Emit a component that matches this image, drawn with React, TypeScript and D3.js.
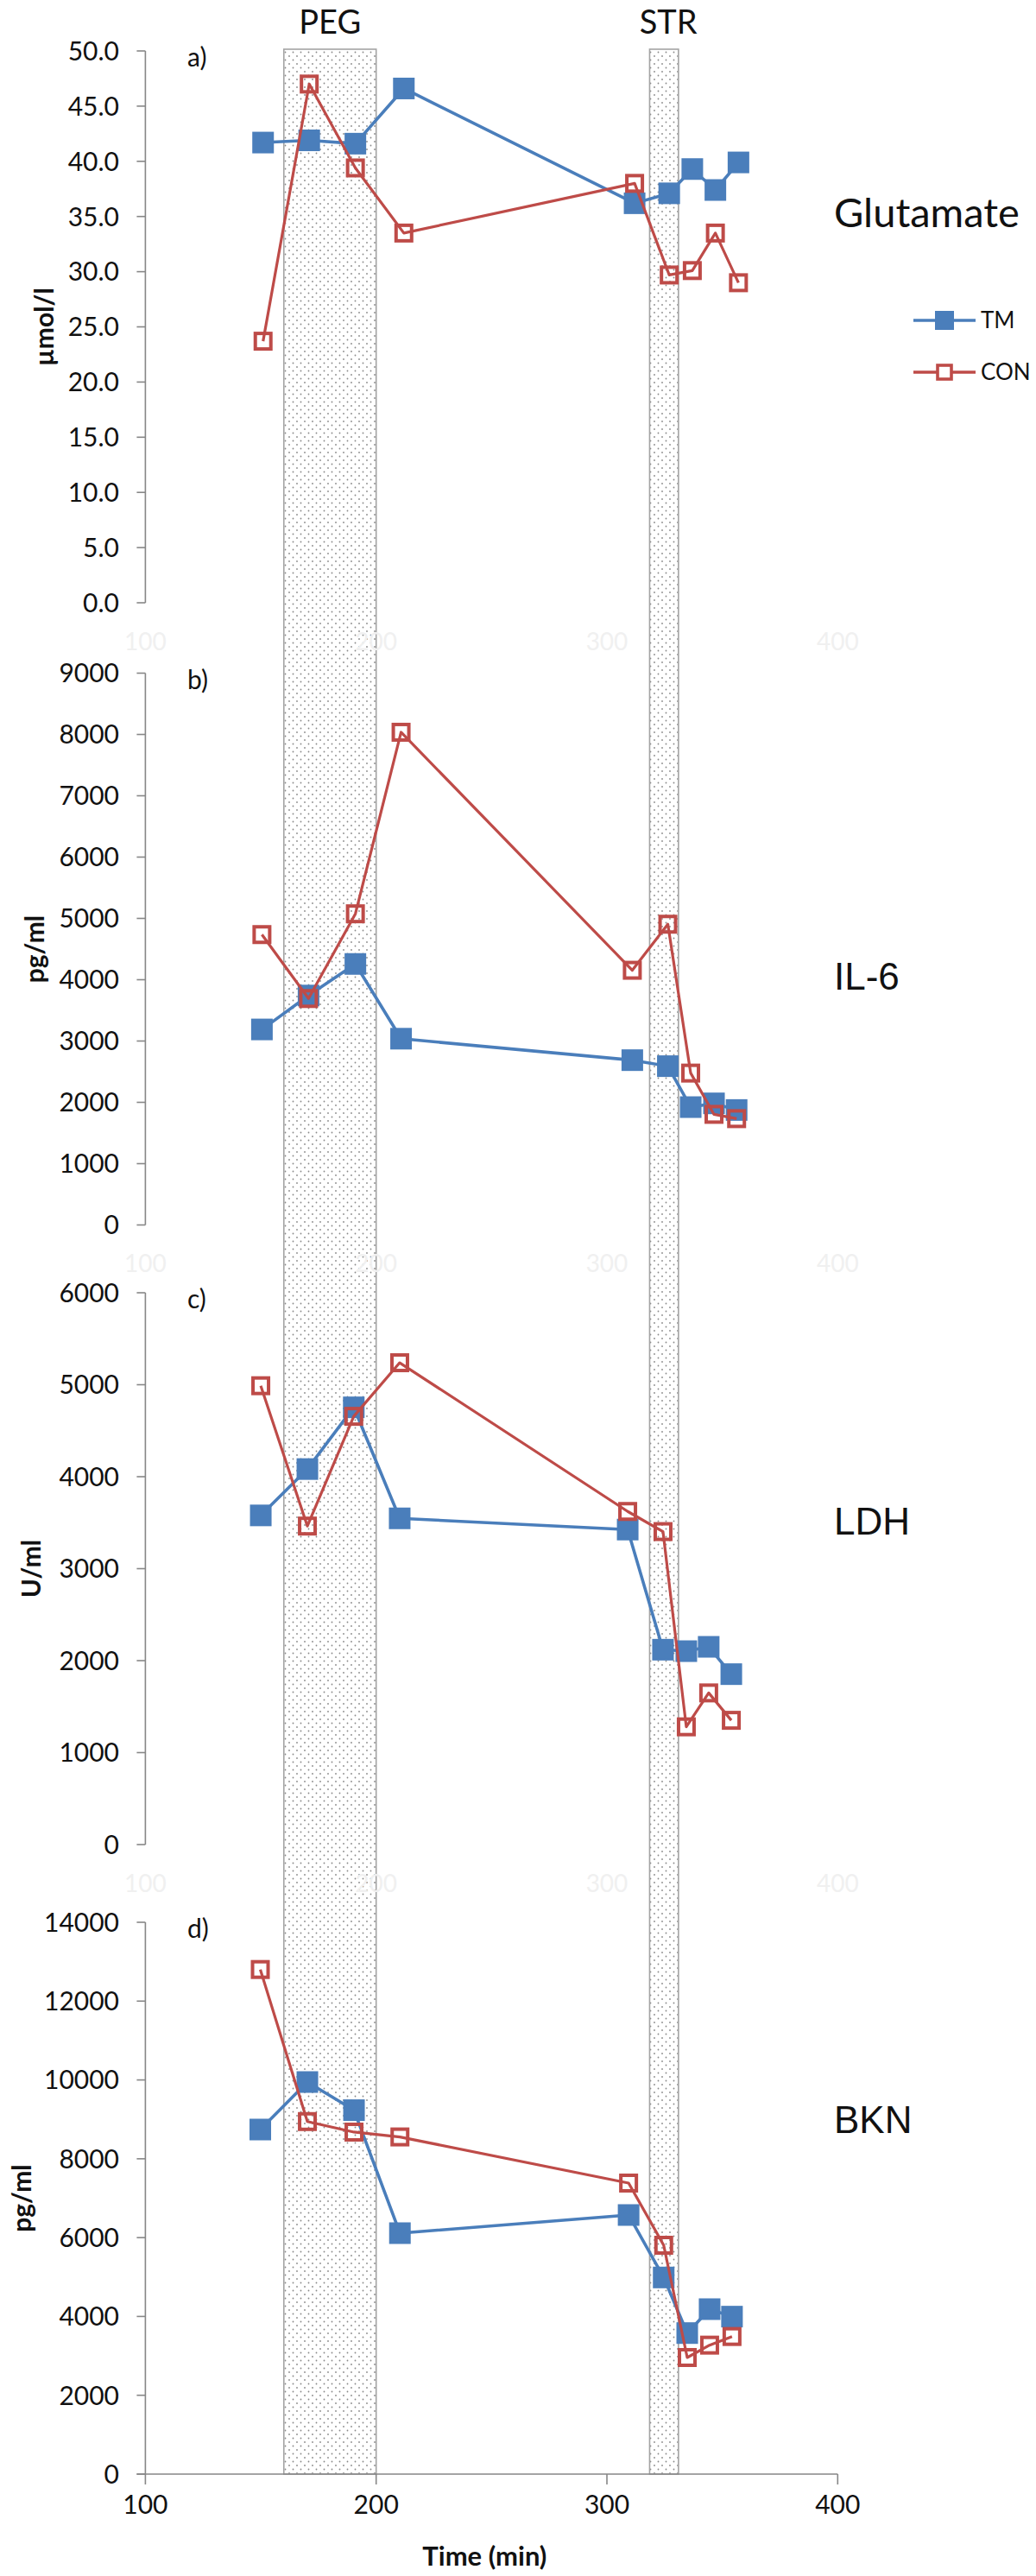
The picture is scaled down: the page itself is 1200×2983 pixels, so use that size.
import React from 'react';
import * as d3 from 'd3';

// ---------- data ----------
const panelLetters = ['a)', 'b)', 'c)', 'd)'];
const panelTitles = ['Glutamate', 'IL-6', 'LDH', 'BKN'];
const unitLabels = ['µmol/l', 'pg/ml', 'U/ml', 'pg/ml'];
const yMaxes = [50, 9000, 6000, 14000];
const ySteps = [5, 1000, 1000, 2000];
const xTickValues = [100, 200, 300, 400];
const seriesNames = ['TM', 'CON'];
const bandLabels = ['PEG', 'STR'];
const bandStarts = [160, 318.5];
const bandEnds = [200, 331];

const timesA = [151, 171, 191, 212, 312, 327, 337, 347, 357];
const tmA = [41.7, 41.9, 41.6, 46.6, 36.2, 37.1, 39.3, 37.4, 39.9];
const conA = [23.7, 47.0, 39.4, 33.5, 38.0, 29.7, 30.1, 33.5, 29.0];

const timesB = [150.5, 170.7, 191, 210.8, 311, 326.4, 336.3, 346.4, 356.2];
const tmB = [3189, 3742, 4257, 3038, 2688, 2590, 1922, 1983, 1875];
const conB = [4736, 3693, 5075, 8036, 4154, 4905, 2477, 1804, 1734];

const timesC = [150, 170.2, 190.3, 210.2, 309, 324.3, 334.4, 344.1, 353.9];
const tmC = [3579, 4083, 4754, 3547, 3425, 2119, 2103, 2150, 1853];
const conC = [4989, 3463, 4656, 5239, 3622, 3403, 1280, 1649, 1351];

const timesD = [149.8, 170.2, 190.4, 210.3, 309.4, 324.6, 334.8, 344.5, 354.2];
const tmD = [8742, 9947, 9233, 6113, 6573, 4989, 3578, 4185, 3995];
const conD = [12802, 8944, 8677, 8554, 7384, 5806, 2958, 3272, 3491];

const panelTimes = [timesA, timesB, timesC, timesD];
const panelTM = [tmA, tmB, tmC, tmD];
const panelCON = [conA, conB, conC, conD];

// ---------- layout ----------
const W = 1200;
const H = 2983;
const X0 = 168.4;
const X1 = 970.3;
const panelTops = [59, 779.5, 1497, 2226];
const panelH = 639;
const unitX = [51, 40, 36, 25];
const titleBaselines = [263, 1146, 1777, 2470];
const titleSizes = [47, 44, 44, 44];
const BLUE = '#4a7ebb';
const RED = '#be4b48';
const AXIS = '#878787';
const FONT = 'Lato, "Open Sans", sans-serif';
const FONT2 = '"Liberation Sans", Arial, sans-serif';

const x = d3.scaleLinear().domain([100, 400]).range([X0, X1]);

function Panel({ i }: { i: number }) {
  const top = panelTops[i];
  const bottom = top + panelH;
  const y = d3.scaleLinear().domain([0, yMaxes[i]]).range([bottom, top]);
  const ticks = d3.range(0, yMaxes[i] + ySteps[i] / 2, ySteps[i]);
  const fmt = i === 0 ? d3.format('.1f') : d3.format('d');
  const times = panelTimes[i];
  const tm = panelTM[i];
  const con = panelCON[i];
  const line = d3
    .line<number>()
    .x((_, k) => x(times[k]))
    .y((v) => y(v));
  const isLast = i === 3;
  return (
    <g>
      {/* y axis */}
      <line x1={X0} x2={X0} y1={top} y2={bottom} stroke={AXIS} strokeWidth={1.6} />
      {ticks.map((t) => (
        <g key={t}>
          <line x1={X0 - 10} x2={X0} y1={y(t)} y2={y(t)} stroke={AXIS} strokeWidth={1.6} />
          <text
            x={138}
            y={y(t)}
            dy="0.36em"
            textAnchor="end"
            fontFamily={FONT}
            fontSize={30}
            fill="#111"
          >
            {fmt(t)}
          </text>
        </g>
      ))}
      {/* unit label */}
      <text
        transform={`translate(${unitX[i]},${(top + bottom) / 2}) rotate(-90)`}
        textAnchor="middle"
        dy="0.35em"
        fontFamily={FONT}
        fontWeight="bold"
        fontSize={30}
        fill="#111"
      >
        {unitLabels[i]}
      </text>
      {/* panel letter */}
      <text x={217} y={top + 18} fontFamily={FONT} fontSize={30} fill="#111">
        {panelLetters[i]}
      </text>
      {/* title */}
      <text
        x={966}
        y={titleBaselines[i]}
        fontFamily={i === 0 ? FONT : FONT2}
        fontSize={titleSizes[i]}
        fill="#111"
      >
        {panelTitles[i]}
      </text>
      {/* x axis */}
      {isLast ? (
        <g>
          <line x1={X0 - 10} x2={X1} y1={bottom} y2={bottom} stroke={AXIS} strokeWidth={1.6} />
          {xTickValues.map((t) => (
            <g key={t}>
              <line x1={x(t)} x2={x(t)} y1={bottom} y2={bottom + 12} stroke={AXIS} strokeWidth={1.6} />
              <text
                x={x(t)}
                y={bottom + 46}
                textAnchor="middle"
                fontFamily={FONT}
                fontSize={30}
                fill="#111"
              >
                {t}
              </text>
            </g>
          ))}
          <text
            x={(X0 + X1) / 2 - 8}
            y={bottom + 106}
            textAnchor="middle"
            fontFamily={FONT}
            fontWeight="bold"
            fontSize={31}
            fill="#111"
          >
            Time (min)
          </text>
        </g>
      ) : (
        <g>
          {xTickValues.map((t) => (
            <text
              key={t}
              x={x(t)}
              y={bottom + 45}
              dy="0.35em"
              textAnchor="middle"
              fontFamily={FONT}
              fontSize={28}
              fill="#f0f0f0"
            >
              {t}
            </text>
          ))}
        </g>
      )}
      {/* TM series */}
      <path d={line(tm) || ''} fill="none" stroke={BLUE} strokeWidth={3.6} strokeLinejoin="round" />
      {tm.map((v, k) => (
        <rect key={k} x={x(times[k]) - 12.5} y={y(v) - 12.5} width={25} height={25} fill={BLUE} />
      ))}
      {/* CON series */}
      <path d={line(con) || ''} fill="none" stroke={RED} strokeWidth={3.2} strokeLinejoin="round" />
      {con.map((v, k) => (
        <rect
          key={k}
          x={x(times[k]) - 9}
          y={y(v) - 9}
          width={18}
          height={18}
          fill="none"
          stroke={RED}
          strokeWidth={4}
        />
      ))}
    </g>
  );
}

export default function App() {
  const bandTop = panelTops[0] - 2;
  const bandBottom = panelTops[3] + panelH;
  return (
    <svg
      width={W}
      height={H}
      viewBox={`0 0 ${W} ${H}`}
      style={{ position: 'absolute', left: 0, top: 0, background: '#fff' }}
    >
      <defs>
        <pattern id="dots" width={9} height={9} patternUnits="userSpaceOnUse">
          <rect width={9} height={9} fill="#fff" />
          <circle cx={2} cy={2} r={0.9} fill="#8a8a8a" />
          <circle cx={6.5} cy={6.5} r={0.9} fill="#8a8a8a" />
        </pattern>
      </defs>
      <rect width={W} height={H} fill="#fff" />
      {/* shaded intervals */}
      {bandLabels.map((lab, b) => (
        <g key={lab}>
          <rect
            x={x(bandStarts[b])}
            y={bandTop}
            width={x(bandEnds[b]) - x(bandStarts[b])}
            height={bandBottom - bandTop}
            fill="url(#dots)"
            stroke="#a4a4a4"
            strokeWidth={1.6}
          />
          <text
            x={(x(bandStarts[b]) + x(bandEnds[b])) / 2 + (b === 1 ? 5 : 0)}
            y={39}
            textAnchor="middle"
            fontFamily={FONT}
            fontSize={38}
            fill="#111"
          >
            {lab}
          </text>
        </g>
      ))}
      {[0, 1, 2, 3].map((i) => (
        <Panel key={i} i={i} />
      ))}
      {/* legend */}
      {seriesNames.map((name, s) => {
        const ly = s === 0 ? 371 : 431;
        const col = s === 0 ? BLUE : RED;
        return (
          <g key={name}>
            <line x1={1058} x2={1130} y1={ly} y2={ly} stroke={col} strokeWidth={3.4} />
            {s === 0 ? (
              <rect x={1094 - 11} y={ly - 11} width={22} height={22} fill={BLUE} />
            ) : (
              <rect x={1094 - 8} y={ly - 8} width={16} height={16} fill="#fff" stroke={RED} strokeWidth={3.6} />
            )}
            <text x={1136} y={ly} dy="0.36em" fontFamily={FONT} fontSize={26} fill="#111">
              {name}
            </text>
          </g>
        );
      })}
    </svg>
  );
}
